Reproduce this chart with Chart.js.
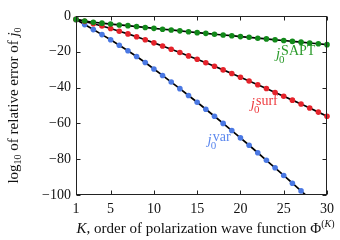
<!DOCTYPE html>
<html>
<head>
<meta charset="utf-8">
<script src="https://cdn.jsdelivr.net/npm/chart.js@4.4.1/dist/chart.umd.min.js"></script>
<style>
html,body{margin:0;padding:0;background:#fff;}
#wrap{width:340px;height:240px;position:relative;}
</style>
</head>
<body>
<div id="wrap"><canvas id="c" width="340" height="240"></canvas></div>
<script>
// ---- data ----
const kValues = [1,2,3,4,5,6,7,8,9,10,11,12,13,14,15,16,17,18,19,20,21,22,23,24,25,26,27,28,29,30];
const saptValues = [-1.9,-2.8,-3.5,-4.0,-4.5,-5.0,-5.4,-5.9,-6.4,-6.9,-7.4,-7.8,-8.3,-8.8,-9.3,-9.7,-10.2,-10.6,-11.0,-11.5,-11.9,-12.4,-12.8,-13.3,-13.7,-14.2,-14.6,-15.1,-15.5,-16.0];
const surfValues = [-1.9,-3.0,-4.3,-5.6,-7.0,-8.5,-10.0,-11.6,-13.3,-15.0,-16.8,-18.6,-20.4,-22.3,-24.2,-26.1,-28.1,-30.1,-32.1,-34.2,-36.3,-38.4,-40.5,-42.7,-44.8,-47.0,-49.2,-51.4,-53.7,-56.0];
const varValues = [-1.9,-4.8,-7.6,-10.4,-13.3,-16.3,-19.4,-22.6,-26.0,-29.6,-33.2,-36.9,-40.6,-44.4,-48.2,-52.1,-56.0,-60.0,-64.0,-68.1,-72.2,-76.4,-80.6,-84.8,-89.1,-93.4,-97.7,-102.0];
const xTickValues = [1,5,10,15,20,25,30];
const yTickValues = [0,-20,-40,-60,-80,-100];
const seriesNames = ['SAPT','surf','var'];

const SERIF = '"Liberation Serif", "DejaVu Serif", serif';
const colors = {SAPT:'#12891a', surf:'#e5232b', var:'#4a78e3'};
const labelColors = {SAPT:'#2a9a2a', surf:'#ee3b3f', var:'#5c88ee'};
// label anchor (data coords) : [K, value]
const labelAnchors = {SAPT:[24.1,-23.2], surf:[21.2,-51.5], var:[16.2,-71.5]};

function pts(vals){ return vals.map((v,i)=>({x:kValues[i], y:v})); }
const seriesValues = {SAPT:saptValues, surf:surfValues, var:varValues};

const datasets = seriesNames.map(n=>({
  label:n,
  data:pts(seriesValues[n]),
  borderColor:'#000',
  borderWidth:1.7,
  pointBackgroundColor:colors[n],
  pointBorderWidth:0,
  pointRadius:2.8,
  pointHoverRadius:2.8,
  tension:0,
  clip:{left:5,right:5,top:5,bottom:0}
}));

function fmt(v){ return v<0 ? '\u2212'+Math.abs(v) : String(v); }

function drawRich(ctx, parts, x, y, align){
  let w=0;
  parts.forEach(p=>{ctx.font=p.font; p.w=ctx.measureText(p.t).width; w+=p.w;});
  let cx = align==='center' ? x-w/2 : x;
  parts.forEach(p=>{ctx.font=p.font; ctx.fillText(p.t, cx, y+(p.dy||0)); cx+=p.w;});
}

const framePlugin = {
  id:'frame',
  afterDatasetsDraw(chart){
    const ctx=chart.ctx, a=chart.chartArea, xs=chart.scales.x, ys=chart.scales.y;
    ctx.save();
    ctx.strokeStyle='#222'; ctx.lineWidth=1;
    const L=Math.round(a.left)+0.5, R=Math.round(a.right)-0.5, T=Math.round(a.top)+0.5, B=Math.round(a.bottom)-0.5;
    ctx.strokeRect(L,T,R-L,B-T);
    ctx.beginPath();
    xTickValues.forEach(v=>{
      const px=Math.round(xs.getPixelForValue(v))+0.5;
      ctx.moveTo(px,B); ctx.lineTo(px,B-4);
      ctx.moveTo(px,T); ctx.lineTo(px,T+4);
    });
    yTickValues.forEach(v=>{
      const py=Math.round(ys.getPixelForValue(v))+0.5;
      ctx.moveTo(L,py); ctx.lineTo(L+4,py);
      ctx.moveTo(R,py); ctx.lineTo(R-4,py);
    });
    ctx.stroke();
    ctx.restore();
  },
  afterDraw(chart){
    const ctx=chart.ctx, a=chart.chartArea, xs=chart.scales.x, ys=chart.scales.y;
    ctx.save();
    ctx.fillStyle='#111';
    ctx.textBaseline='alphabetic';
    // x title
    drawRich(ctx,[
      {t:'K', font:'italic 15px '+SERIF},
      {t:', order of polarization wave function \u03A6', font:'15px '+SERIF},
      {t:'(', font:'10px '+SERIF, dy:-6},
      {t:'K', font:'italic 10px '+SERIF, dy:-6},
      {t:')', font:'10px '+SERIF, dy:-6}
    ], (a.left+a.right)/2+4, 233, 'center');
    // y title
    ctx.save();
    ctx.translate(18,(a.top+a.bottom)/2);
    ctx.rotate(-Math.PI/2);
    drawRich(ctx,[
      {t:'log', font:'15px '+SERIF},
      {t:'10', font:'10px '+SERIF, dy:3},
      {t:' of relative error of ', font:'15px '+SERIF},
      {t:'j', font:'italic 15px '+SERIF},
      {t:'0', font:'10px '+SERIF, dy:3}
    ], 0, 0, 'center');
    ctx.restore();
    // series labels
    seriesNames.forEach(n=>{
      const [k,v]=labelAnchors[n];
      const px=xs.getPixelForValue(k), py=ys.getPixelForValue(v);
      ctx.fillStyle=labelColors[n];
      ctx.font='italic 15px '+SERIF;
      ctx.fillText('j',px,py);
      const jw=ctx.measureText('j').width;
      ctx.font='11px '+SERIF;
      ctx.fillText('0',px+jw-1,py+5);
      ctx.font='14px '+SERIF;
      ctx.fillText(n,px+jw+1,py-3);
    });
    ctx.restore();
  }
};

new Chart(document.getElementById('c'),{
  type:'line',
  data:{datasets},
  options:{
    responsive:false,
    animation:false,
    events:[],
    layout:{padding:{top:16,right:12,left:0,bottom:0}},
    plugins:{legend:{display:false},tooltip:{enabled:false}},
    scales:{
      x:{
        type:'linear', min:1, max:30,
        afterBuildTicks(s){ s.ticks = xTickValues.map(v=>({value:v})); },
        afterFit(s){ s.height=45; },
        grid:{display:false, drawTicks:false},
        border:{display:false},
        ticks:{font:{family:SERIF,size:14}, color:'#111', padding:6, maxRotation:0, autoSkip:false, callback:(v)=>fmt(v)}
      },
      y:{
        type:'linear', min:-100, max:0,
        afterBuildTicks(s){ s.ticks = yTickValues.map(v=>({value:v})); },
        afterFit(s){ s.width=76; },
        grid:{display:false, drawTicks:false},
        border:{display:false},
        ticks:{font:{family:SERIF,size:14}, color:'#111', padding:5, autoSkip:false, callback:(v)=>fmt(v)}
      }
    }
  },
  plugins:[framePlugin]
});
</script>
</body>
</html>
